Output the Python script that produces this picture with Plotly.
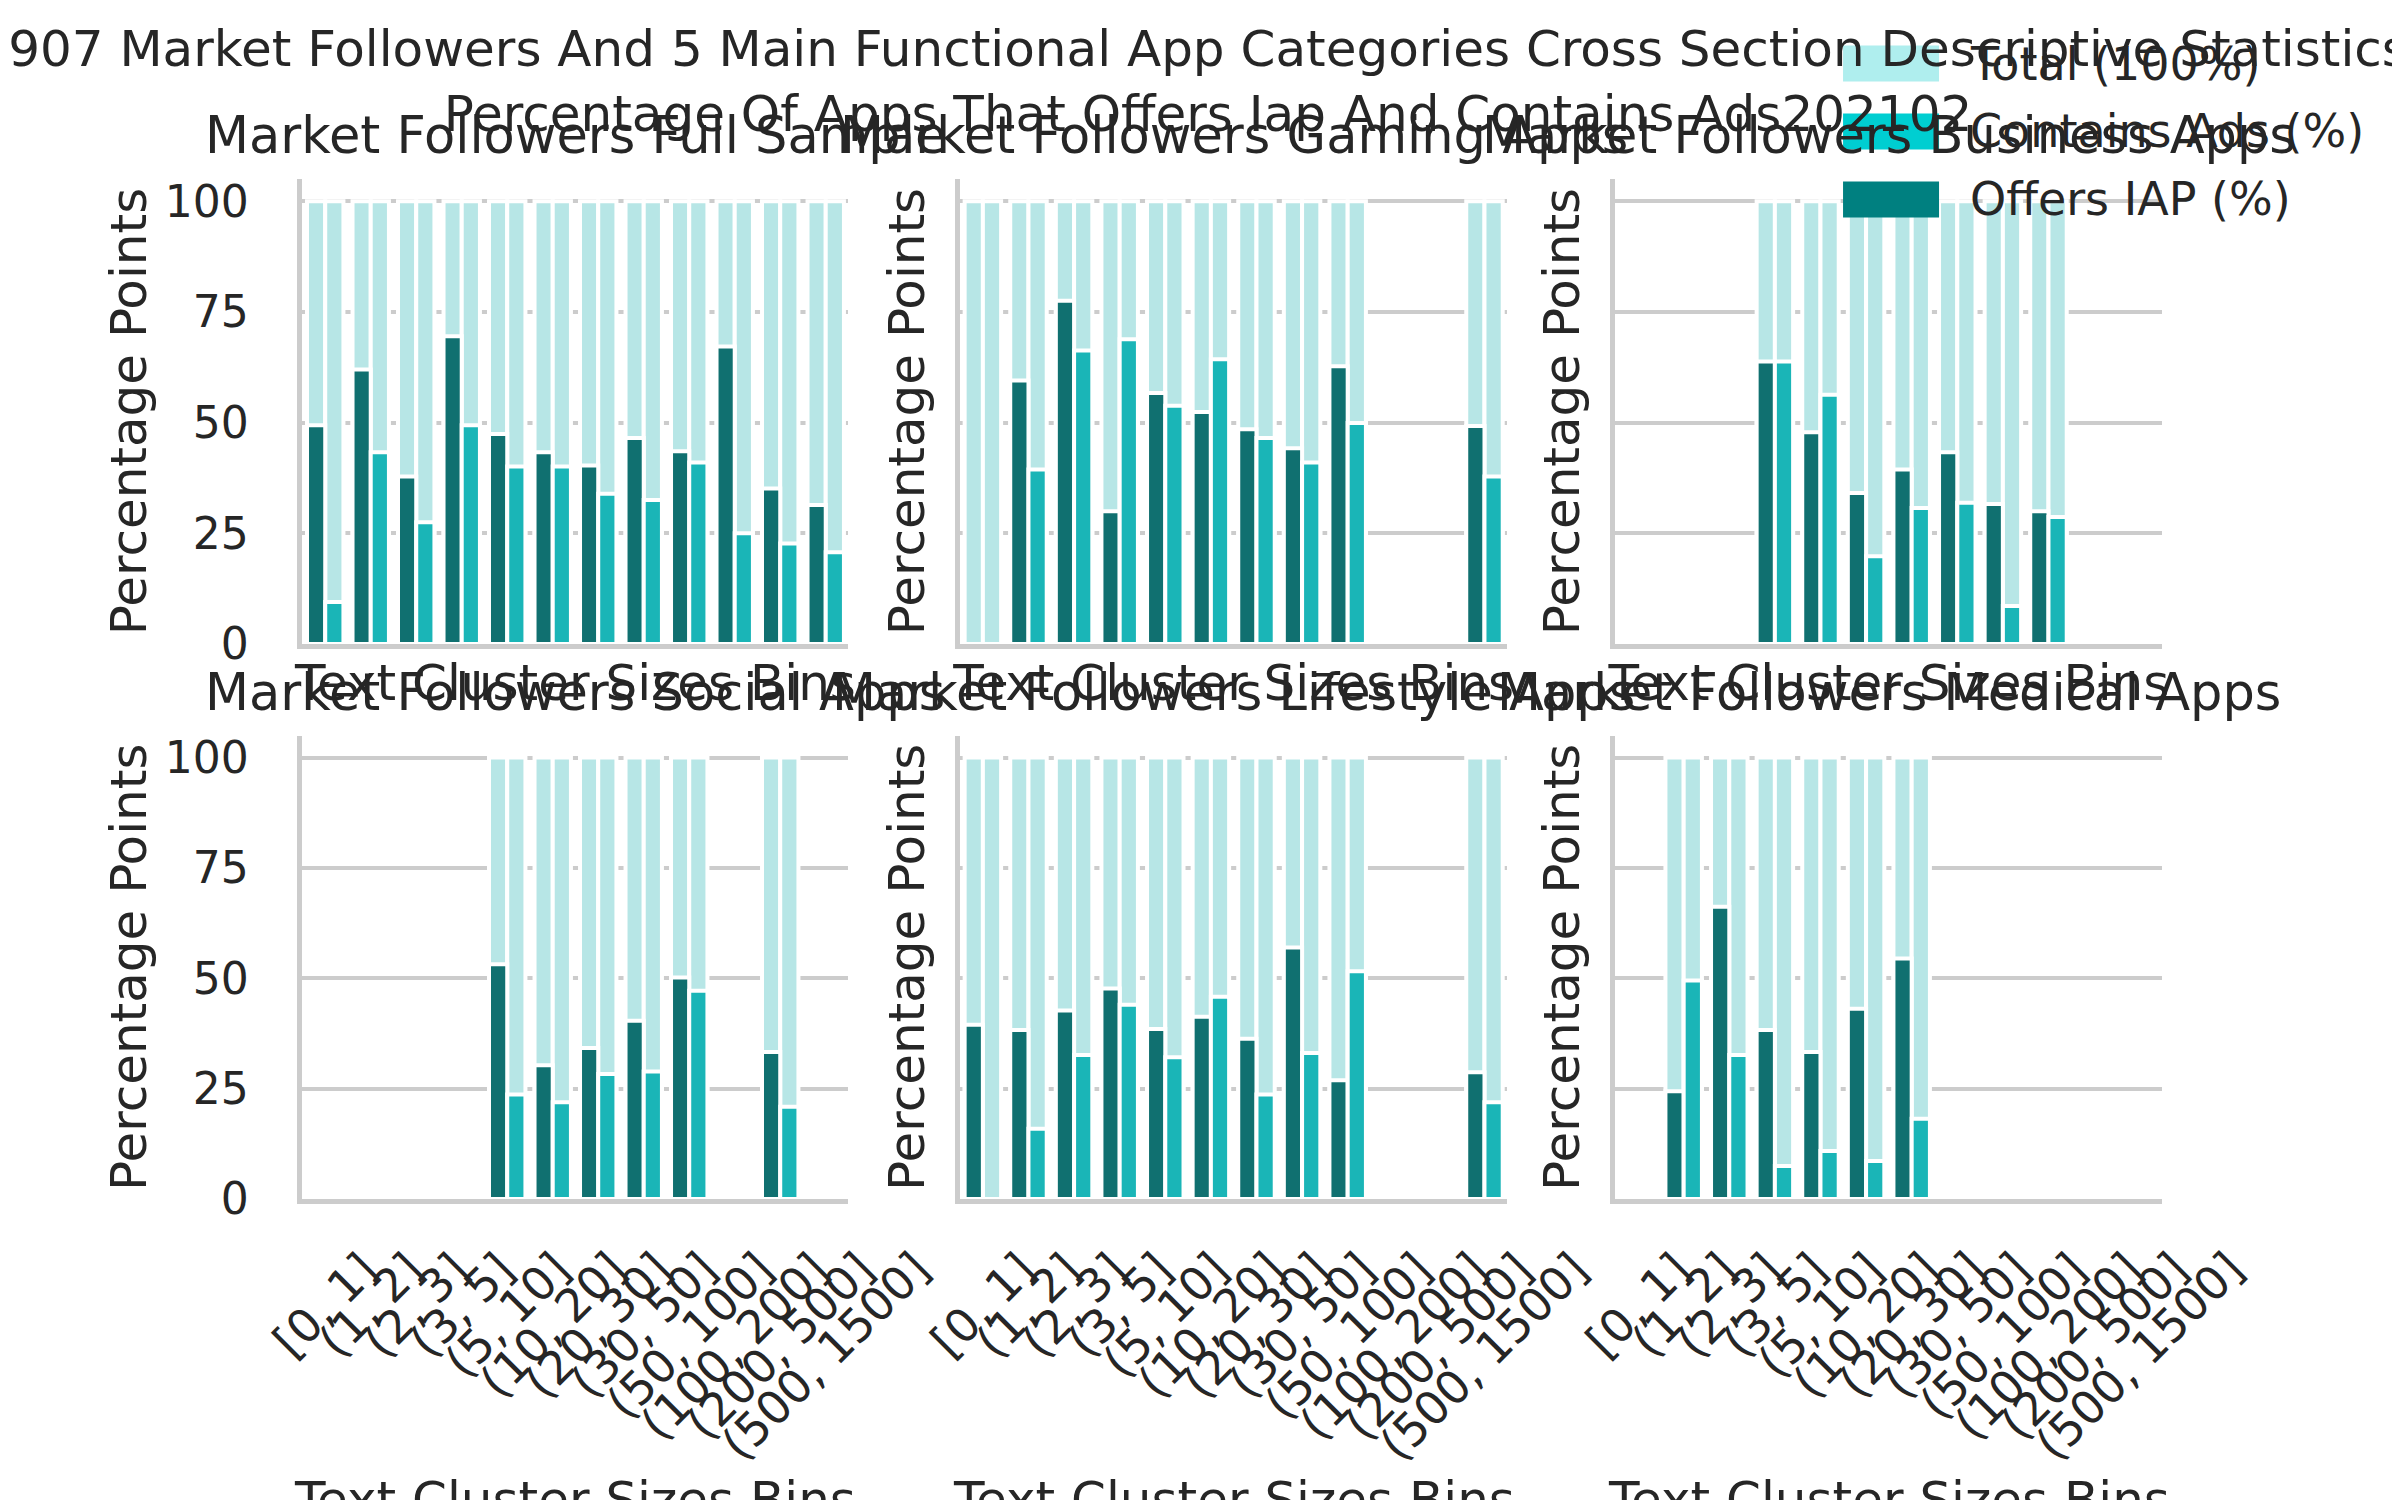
import plotly.graph_objects as go
from plotly.subplots import make_subplots

bins = ["[0, 1]", "(1, 2]", "(2, 3]", "(3, 5]", "(5, 10]", "(10, 20]",
        "(20, 30]", "(30, 50]", "(50, 100]", "(100, 200]", "(200, 500]", "(500, 1500]"]

panel_titles = ["Market Followers Full Sample", "Market Followers Gaming Apps",
                "Market Followers Business Apps", "Market Followers Social Apps",
                "Market Followers Lifestyle Apps", "Market Followers Medical Apps"]

# percent of apps per text cluster size bin (None = no apps in that bin)
full_iap = [49.4, 62.0, 37.8, 69.5, 47.4, 43.3, 40.3, 46.5, 43.5, 67.2, 35.1, 31.4]
full_ads = [9.5, 43.3, 27.5, 49.4, 40.1, 40.1, 33.9, 32.5, 41.0, 25.0, 22.7, 20.7]
gaming_iap = [0, 59.5, 77.5, 30.0, 56.7, 52.4, 48.5, 44.2, 62.7, None, None, 49.2]
gaming_ads = [0, 39.4, 66.3, 68.8, 53.8, 64.3, 46.5, 41.0, 49.9, None, None, 37.8]
business_iap = [None, None, None, 63.8, 47.8, 34.1, 39.4, 43.3, 31.6, 30.0, None, None]
business_ads = [None, None, None, 63.8, 56.3, 19.8, 30.7, 31.9, 8.6, 28.7, None, None]
social_iap = [None, None, None, None, 53.2, 30.3, 34.2, 40.4, 50.2, None, 33.3, None]
social_ads = [None, None, None, None, 23.7, 21.9, 28.3, 28.9, 47.2, None, 20.9, None]
lifestyle_iap = [39.5, 38.3, 42.7, 47.7, 38.5, 41.3, 36.3, 57.0, 26.9, None, None, 28.7]
lifestyle_ads = [0, 15.9, 32.6, 44.0, 32.1, 45.8, 23.7, 33.1, 51.6, None, None, 21.9]
medical_iap = [None, 24.4, 66.2, 38.3, 33.3, 43.1, 54.5, None, None, None, None, None]
medical_ads = [None, 49.5, 32.6, 7.5, 10.9, 8.6, 18.2, None, None, None, None, None]

legend_names = ["Total (100%)", "Contains Ads (%)", "Offers IAP (%)"]
legend_colors = ["#AFEEEE", "#00CED1", "#008080"]
total_col, ads_col, iap_col = "#b7e6e6", "#1ab5b7", "#107070"

panels = [(full_iap, full_ads), (gaming_iap, gaming_ads), (business_iap, business_ads),
          (social_iap, social_ads), (lifestyle_iap, lifestyle_ads), (medical_iap, medical_ads)]

FONT = "DejaVu Sans"
INK = "#262626"
GRID = "#cccccc"
XTITLE = "Text Cluster Sizes Bins"

fig = make_subplots(rows=2, cols=3)

col_dom = [[0.1227, 0.3502], [0.3967, 0.6247], [0.6697, 0.8977]]
row_dom = [[0.576, 0.886], [0.206, 0.515]]

edge = dict(color="white", width=4)
for i, (iap, ads) in enumerate(panels):
    r, c = i // 3 + 1, i % 3 + 1
    total = [100 if v is not None else None for v in iap]
    fig.add_trace(go.Bar(x=bins, y=total, offsetgroup="a", marker=dict(color=total_col, line=edge),
                         showlegend=False), row=r, col=c)
    fig.add_trace(go.Bar(x=bins, y=total, offsetgroup="b", marker=dict(color=total_col, line=edge),
                         showlegend=False), row=r, col=c)
    fig.add_trace(go.Bar(x=bins, y=iap, offsetgroup="a", marker=dict(color=iap_col, line=edge),
                         showlegend=False), row=r, col=c)
    fig.add_trace(go.Bar(x=bins, y=ads, offsetgroup="b", marker=dict(color=ads_col, line=edge),
                         showlegend=False), row=r, col=c)

    n = "" if i == 0 else str(i + 1)
    left = c == 1
    bottom = r == 2
    fig.update_xaxes(domain=col_dom[c - 1], type="category", categoryorder="array",
                     categoryarray=bins, range=[-0.5, 11.5], showticklabels=False,
                     showgrid=False, zeroline=False, showline=True, linecolor=GRID,
                     linewidth=5, ticks="", automargin=False,
                     title=dict(text="" if bottom else XTITLE, standoff=18,
                                font=dict(size=50, color=INK)),
                     row=r, col=c)
    fig.update_yaxes(domain=row_dom[r - 1], range=[0, 105], tickvals=[0, 25, 50, 75, 100],
                     showticklabels=left, ticks="outside" if left else "", ticklen=40,
                     tickcolor="rgba(0,0,0,0)", tickfont=dict(size=44, color=INK),
                     showgrid=True, gridcolor=GRID, gridwidth=3.5, zeroline=False,
                     showline=True, linecolor=GRID, linewidth=5, automargin=False,
                     title=dict(text="Percentage Points", standoff=4 if left else 16,
                                font=dict(size=50, color=INK)),
                     row=r, col=c)

    fig.add_annotation(text=panel_titles[i], xref=f"x{n} domain", yref=f"y{n} domain",
                       x=0.5, y=1, xanchor="center", yanchor="bottom", yshift=12,
                       showarrow=False, font=dict(size=51, color=INK))
    if bottom:
        for b in bins:
            fig.add_annotation(text=b, x=b, xref=f"x{n}", y=0, yref=f"y{n} domain",
                               xanchor="center", yanchor="top", yshift=-40, textangle=-45,
                               showarrow=False, font=dict(size=46, color=INK))
        # x title sits below the long rotated labels, partly past the page edge
        fig.add_annotation(text=XTITLE, xref=f"x{n} domain", yref=f"y{n} domain",
                           x=0.5, y=0, xanchor="center", yanchor="top", yshift=-270,
                           showarrow=False, font=dict(size=50, color=INK))

# legend drawn by hand so the swatches match the large patches of the original
for k, (name, colr) in enumerate(zip(legend_names, legend_colors)):
    yc = 0.963 - k * 0.0453
    fig.add_shape(type="rect", xref="paper", yref="paper", x0=0.7646, x1=0.8046,
                  y0=yc - 0.012, y1=yc + 0.012, fillcolor=colr, line=dict(width=0))
    fig.add_annotation(text=name, xref="paper", yref="paper", x=0.8165, y=yc,
                       xanchor="left", yanchor="middle", showarrow=False,
                       font=dict(size=46, color=INK))

fig.update_layout(
    width=2400, height=1500,
    margin=dict(l=0, r=0, t=0, b=0),
    paper_bgcolor="white", plot_bgcolor="white",
    barmode="group", bargap=0.2, bargroupgap=0,
    font=dict(family=FONT, color=INK),
    showlegend=False,
    title=dict(text="907 Market Followers And 5 Main Functional App Categories Cross Section Descriptive Statistics"
                    "<br>Percentage Of Apps That Offers Iap And Contains Ads202102",
               x=0.5, xanchor="center", y=1 - 58 / 1500, yanchor="middle", yref="container",
               font=dict(size=50, color=INK)),
)

fig.write_html("out.html")
